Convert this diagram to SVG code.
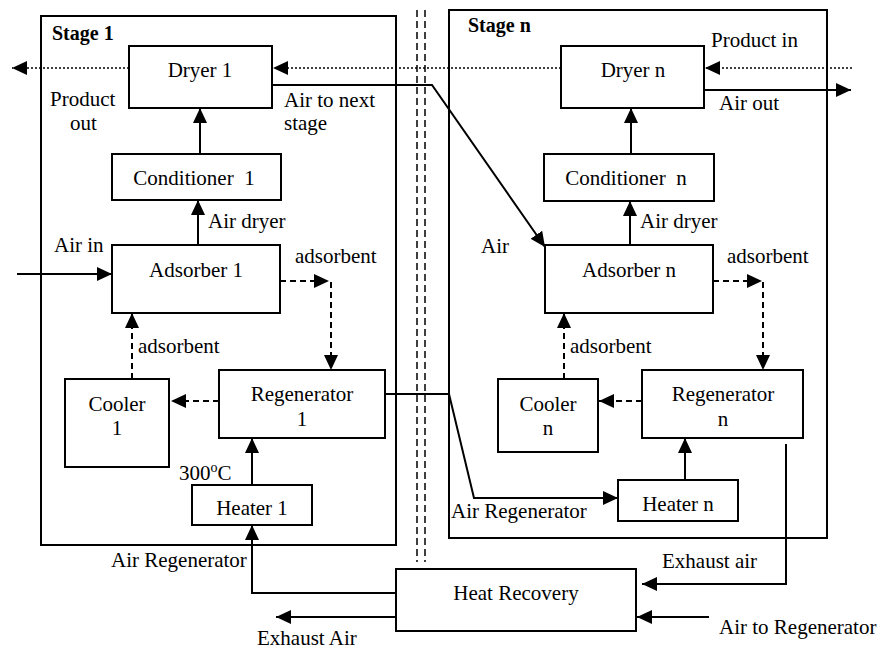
<svg xmlns="http://www.w3.org/2000/svg" width="881" height="650" viewBox="0 0 881 650">
<style>
.box{fill:#fff;stroke:#000;stroke-width:2}
.frame{fill:none;stroke:#000;stroke-width:2}
.ln{fill:none;stroke:#000;stroke-width:2}
.dash{fill:none;stroke:#000;stroke-width:2;stroke-dasharray:6,4}
.dot{fill:none;stroke:#000;stroke-width:1.5;stroke-dasharray:2,2}
.sep{fill:none;stroke:#000;stroke-width:1.5;stroke-dasharray:7,4}
text{font-family:"Liberation Serif","Times New Roman",serif;font-size:21px;fill:#000}
.c{text-anchor:middle}
.b{font-weight:bold;font-size:20px}
</style>
<defs>
<marker id="ah" markerUnits="userSpaceOnUse" markerWidth="15" markerHeight="14" refX="15" refY="7" orient="auto">
<path d="M0,0 L15,7 L0,14 z" fill="#000"/>
</marker>
</defs>
<rect class="frame" x="41" y="16" width="355" height="529"/>
<rect class="frame" x="449" y="10" width="378" height="528"/>
<line class="sep" x1="417" y1="10" x2="417" y2="562"/>
<line class="sep" x1="425" y1="10" x2="425" y2="562"/>
<text class="b" x="52" y="40">Stage 1</text>
<text class="b" x="468" y="32">Stage n</text>
<g id="connectors">
<line class="dot" x1="129" y1="68" x2="12" y2="68" marker-end="url(#ah)"/>
<line class="dot" x1="561" y1="68" x2="273" y2="68" marker-end="url(#ah)"/>
<line class="dot" x1="852" y1="68" x2="705" y2="68" marker-end="url(#ah)"/>
<line class="ln" x1="704" y1="90" x2="851" y2="90" marker-end="url(#ah)"/>
<polyline class="ln" points="272,85 432,85 545,247" marker-end="url(#ah)"/>
<line class="ln" x1="200" y1="154" x2="200" y2="108" marker-end="url(#ah)"/>
<line class="ln" x1="631" y1="154" x2="631" y2="108" marker-end="url(#ah)"/>
<line class="ln" x1="198" y1="245" x2="198" y2="200" marker-end="url(#ah)"/>
<line class="ln" x1="630" y1="245" x2="630" y2="201" marker-end="url(#ah)"/>
<line class="ln" x1="17" y1="274" x2="112" y2="274" marker-end="url(#ah)"/>
<line class="dash" x1="280" y1="281" x2="329" y2="281" marker-end="url(#ah)"/>
<line class="dash" x1="331" y1="282" x2="331" y2="370" marker-end="url(#ah)"/>
<line class="dash" x1="713" y1="281" x2="762" y2="281" marker-end="url(#ah)"/>
<line class="dash" x1="763" y1="282" x2="763" y2="370" marker-end="url(#ah)"/>
<line class="dash" x1="219" y1="401" x2="171" y2="401" marker-end="url(#ah)"/>
<line class="dash" x1="642" y1="401" x2="599" y2="401" marker-end="url(#ah)"/>
<line class="dash" x1="132" y1="379" x2="132" y2="313" marker-end="url(#ah)"/>
<line class="dash" x1="564" y1="379" x2="564" y2="313" marker-end="url(#ah)"/>
<polyline class="ln" points="383,394 449,394 474,498 618,498" marker-end="url(#ah)"/>
<line class="ln" x1="252" y1="485" x2="252" y2="438" marker-end="url(#ah)"/>
<line class="ln" x1="685" y1="480" x2="685" y2="438" marker-end="url(#ah)"/>
<polyline class="ln" points="396,593 252,593 252,525" marker-end="url(#ah)"/>
<line class="ln" x1="396" y1="617" x2="276" y2="617" marker-end="url(#ah)"/>
<polyline class="ln" points="786,444 786,584 642,584" marker-end="url(#ah)"/>
<line class="ln" x1="709" y1="617" x2="637" y2="617" marker-end="url(#ah)"/>
</g>
<g id="dryer1"><rect class="box" x="129" y="46" width="143" height="62"/><text class="c" x="200" y="77">Dryer 1</text></g>
<g id="dryern"><rect class="box" x="561" y="46" width="143" height="62"/><text class="c" x="633" y="77">Dryer n</text></g>
<g id="cond1"><rect class="box" x="112" y="154" width="169" height="46"/><text class="c" x="194" y="185" xml:space="preserve">Conditioner  1</text></g>
<g id="condn"><rect class="box" x="544" y="154" width="170" height="47"/><text class="c" x="626" y="185" xml:space="preserve">Conditioner  n</text></g>
<g id="ads1"><rect class="box" x="112" y="245" width="168" height="68"/><text class="c" x="196" y="277">Adsorber 1</text></g>
<g id="adsn"><rect class="box" x="545" y="245" width="168" height="68"/><text class="c" x="629" y="277">Adsorber n</text></g>
<g id="reg1"><rect class="box" x="219" y="370" width="166" height="68"/><text class="c" x="302" y="401">Regenerator</text><text class="c" x="302" y="426">1</text></g>
<g id="regn"><rect class="box" x="642" y="370" width="161" height="68"/><text class="c" x="723" y="401">Regenerator</text><text class="c" x="723" y="426">n</text></g>
<g id="cool1"><rect class="box" x="65" y="379" width="104" height="88"/><text class="c" x="117" y="411">Cooler</text><text class="c" x="117" y="435">1</text></g>
<g id="cooln"><rect class="box" x="498" y="379" width="100" height="73"/><text class="c" x="548" y="411">Cooler</text><text class="c" x="548" y="435">n</text></g>
<g id="heat1"><rect class="box" x="192" y="485" width="120" height="40"/><text class="c" x="252" y="515">Heater 1</text></g>
<g id="heatn"><rect class="box" x="618" y="480" width="120" height="41"/><text class="c" x="678" y="511">Heater n</text></g>
<g id="hr"><rect class="box" x="396" y="569" width="240" height="62"/><text class="c" x="516" y="600">Heat Recovery</text></g>
<g id="labels">
<text x="50" y="106">Product</text>
<text x="70" y="130">out</text>
<text x="284" y="107">Air to next</text>
<text x="284" y="130">stage</text>
<text x="711" y="47">Product in</text>
<text x="719" y="110">Air out</text>
<text x="208" y="228">Air dryer</text>
<text x="640" y="228">Air dryer</text>
<text x="54" y="252">Air in</text>
<text x="481" y="253">Air</text>
<text x="295" y="263">adsorbent</text>
<text x="727" y="263">adsorbent</text>
<text x="138" y="353">adsorbent</text>
<text x="570" y="353">adsorbent</text>
<text x="179" y="480">300<tspan font-size="14" dy="-8">o</tspan><tspan dy="8">C</tspan></text>
<text x="111" y="567">Air Regenerator</text>
<text x="451" y="518">Air Regenerator</text>
<text x="662" y="568">Exhaust air</text>
<text x="257" y="645">Exhaust Air</text>
<text x="719" y="634">Air to Regenerator</text>
</g>
</svg>
